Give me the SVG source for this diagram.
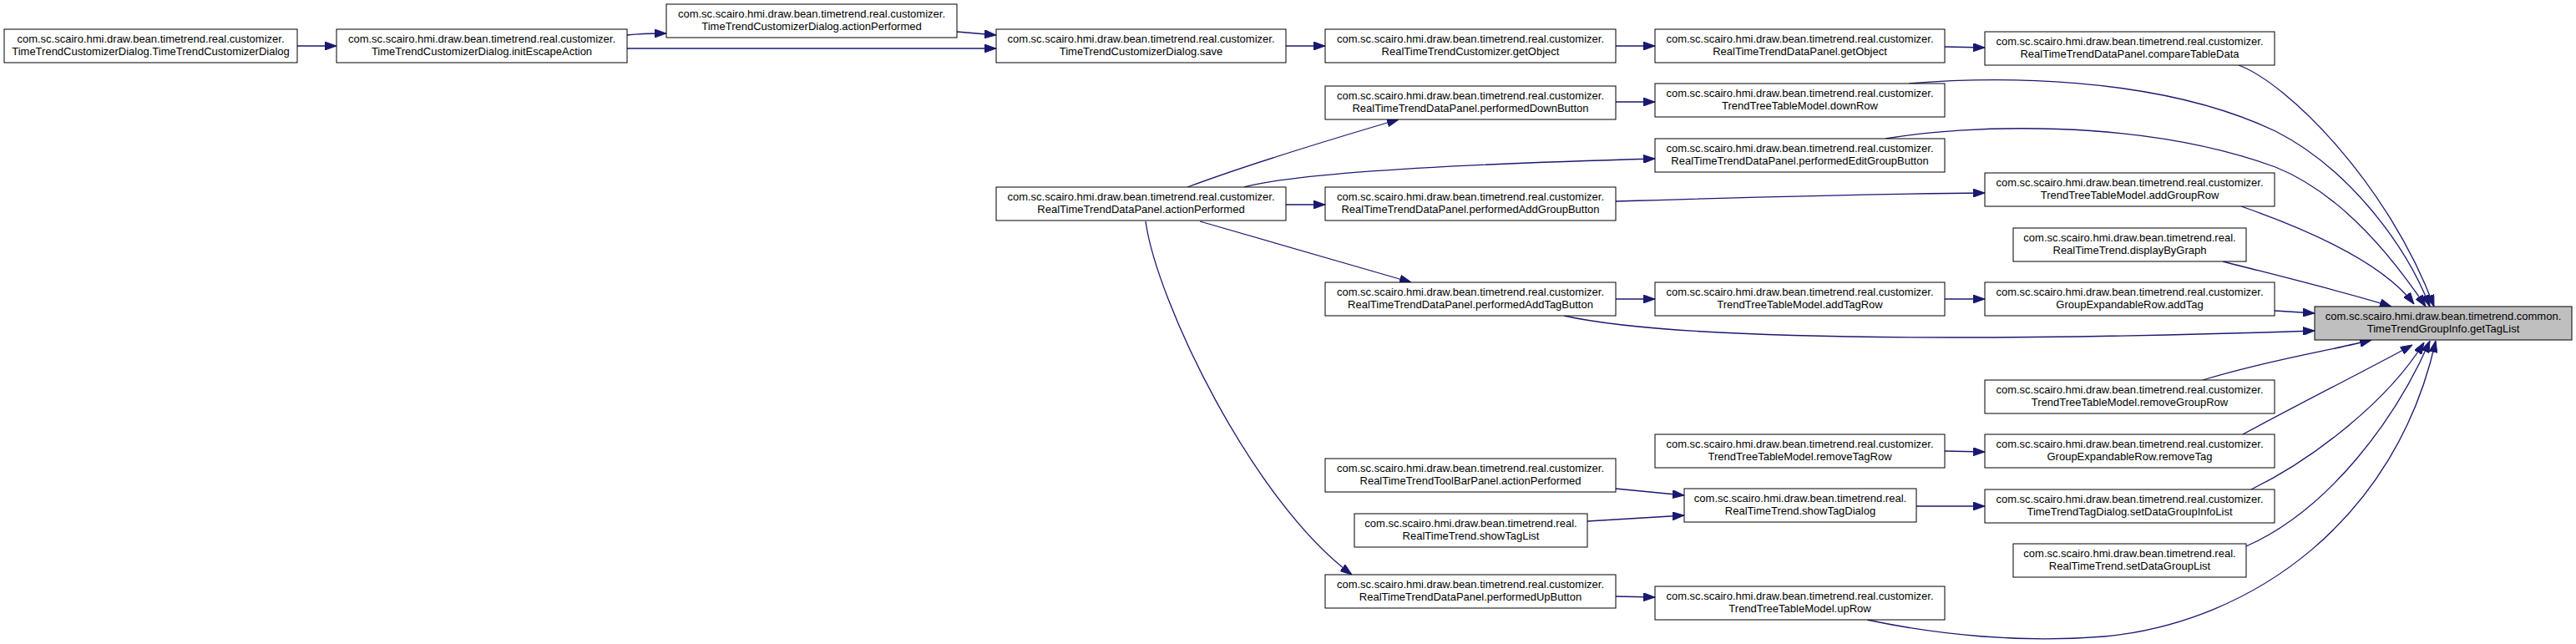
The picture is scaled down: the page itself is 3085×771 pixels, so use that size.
<svg xmlns="http://www.w3.org/2000/svg" width="3085" height="771" viewBox="0 0 3085 771">
<style>
.n rect{fill:#ffffff;stroke:#000000;stroke-width:1}
.root rect{fill:#bfbfbf;stroke:#000000;stroke-width:1}
text{font-family:"Liberation Sans",Arial,sans-serif;font-size:13px;fill:#000000;text-anchor:middle}
.e path{fill:none;stroke:#191970;stroke-width:1.3;marker-end:url(#arr)}
</style>
<defs>
<marker id="arr" markerUnits="userSpaceOnUse" markerWidth="14" markerHeight="10" refX="14" refY="5" orient="auto">
<path d="M0,0 L14,5 L0,10 z" fill="#191970" stroke="#191970" stroke-width="1"/>
</marker>
</defs>
<rect width="3085" height="771" fill="#ffffff"/>
<g class="e" id="edges">
<path d="M356,55 L403,55"/>
<path d="M751,42 C770,40 785,40 798,40"/>
<path d="M751,58 L1193,58"/>
<path d="M1146,38 L1193,42"/>
<path d="M1540,55 L1587,55"/>
<path d="M1935,55 L1982,55"/>
<path d="M2329,56 L2377,57"/>
<path d="M1422,224 C1500,195 1600,165 1675,143"/>
<path d="M1490,224 C1560,205 1800,195 1982,190"/>
<path d="M1540,245 L1587,245"/>
<path d="M1437,265 L1690,338"/>
<path d="M1372,265 C1385,360 1500,600 1619,688"/>
<path d="M1935,122 L1982,122"/>
<path d="M2286,100 C2380,92 2580,88 2725,157 C2810,200 2880,290 2910,367"/>
<path d="M2258,166 C2350,150 2560,140 2725,200 C2800,230 2860,300 2905,367"/>
<path d="M2681,78 C2740,100 2860,220 2915,367"/>
<path d="M1935,241 C2100,236 2250,232 2377,231"/>
<path d="M2684,247 C2750,270 2850,310 2891,364"/>
<path d="M2662,313 C2740,333 2810,350 2864,367"/>
<path d="M1935,358 L1982,358"/>
<path d="M2329,358 L2377,358"/>
<path d="M2724,372 L2772,375"/>
<path d="M1873,378 C1950,395 2100,404 2340,404 C2500,404 2650,400 2772,396"/>
<path d="M2638,455 C2720,430 2790,420 2840,407"/>
<path d="M2686,520 C2760,480 2840,440 2889,413"/>
<path d="M2696,586 C2770,550 2860,480 2903,410"/>
<path d="M2690,654 C2790,610 2870,500 2910,408"/>
<path d="M2236,742 C2320,760 2420,770 2520,762 C2700,745 2870,620 2917,408"/>
<path d="M1935,585 L2017,593"/>
<path d="M1901,624 L2017,617"/>
<path d="M1935,714 L1982,715"/>
<path d="M2329,540 L2377,541"/>
<path d="M2295,606 L2377,606"/>
</g>
<g class="root" id="n0"><rect x="2772" y="367" width="308" height="40"/><text x="2926" y="383">com.sc.scairo.hmi.draw.bean.timetrend.common.</text><text x="2926" y="398">TimeTrendGroupInfo.getTagList</text></g>
<g class="n" id="n1"><rect x="5" y="35" width="351" height="40"/><text x="180.5" y="51">com.sc.scairo.hmi.draw.bean.timetrend.real.customizer.</text><text x="180.5" y="66">TimeTrendCustomizerDialog.TimeTrendCustomizerDialog</text></g>
<g class="n" id="n2"><rect x="403" y="35" width="348" height="40"/><text x="577" y="51">com.sc.scairo.hmi.draw.bean.timetrend.real.customizer.</text><text x="577" y="66">TimeTrendCustomizerDialog.initEscapeAction</text></g>
<g class="n" id="n3"><rect x="798" y="5" width="348" height="40"/><text x="972" y="21">com.sc.scairo.hmi.draw.bean.timetrend.real.customizer.</text><text x="972" y="36">TimeTrendCustomizerDialog.actionPerformed</text></g>
<g class="n" id="n4"><rect x="1193" y="35" width="347" height="40"/><text x="1366.5" y="51">com.sc.scairo.hmi.draw.bean.timetrend.real.customizer.</text><text x="1366.5" y="66">TimeTrendCustomizerDialog.save</text></g>
<g class="n" id="n5"><rect x="1193" y="224" width="347" height="40"/><text x="1366.5" y="240">com.sc.scairo.hmi.draw.bean.timetrend.real.customizer.</text><text x="1366.5" y="255">RealTimeTrendDataPanel.actionPerformed</text></g>
<g class="n" id="n6"><rect x="1587" y="35" width="348" height="40"/><text x="1761" y="51">com.sc.scairo.hmi.draw.bean.timetrend.real.customizer.</text><text x="1761" y="66">RealTimeTrendCustomizer.getObject</text></g>
<g class="n" id="n7"><rect x="1982" y="35" width="347" height="40"/><text x="2155.5" y="51">com.sc.scairo.hmi.draw.bean.timetrend.real.customizer.</text><text x="2155.5" y="66">RealTimeTrendDataPanel.getObject</text></g>
<g class="n" id="n8"><rect x="1587" y="103" width="348" height="40"/><text x="1761" y="119">com.sc.scairo.hmi.draw.bean.timetrend.real.customizer.</text><text x="1761" y="134">RealTimeTrendDataPanel.performedDownButton</text></g>
<g class="n" id="n9"><rect x="1982" y="100" width="347" height="40"/><text x="2155.5" y="116">com.sc.scairo.hmi.draw.bean.timetrend.real.customizer.</text><text x="2155.5" y="131">TrendTreeTableModel.downRow</text></g>
<g class="n" id="n10"><rect x="1982" y="166" width="347" height="40"/><text x="2155.5" y="182">com.sc.scairo.hmi.draw.bean.timetrend.real.customizer.</text><text x="2155.5" y="197">RealTimeTrendDataPanel.performedEditGroupButton</text></g>
<g class="n" id="n11"><rect x="1587" y="224" width="348" height="40"/><text x="1761" y="240">com.sc.scairo.hmi.draw.bean.timetrend.real.customizer.</text><text x="1761" y="255">RealTimeTrendDataPanel.performedAddGroupButton</text></g>
<g class="n" id="n12"><rect x="1587" y="338" width="348" height="40"/><text x="1761" y="354">com.sc.scairo.hmi.draw.bean.timetrend.real.customizer.</text><text x="1761" y="369">RealTimeTrendDataPanel.performedAddTagButton</text></g>
<g class="n" id="n13"><rect x="1982" y="338" width="347" height="40"/><text x="2155.5" y="354">com.sc.scairo.hmi.draw.bean.timetrend.real.customizer.</text><text x="2155.5" y="369">TrendTreeTableModel.addTagRow</text></g>
<g class="n" id="n14"><rect x="2377" y="38" width="347" height="40"/><text x="2550.5" y="54">com.sc.scairo.hmi.draw.bean.timetrend.real.customizer.</text><text x="2550.5" y="69">RealTimeTrendDataPanel.compareTableData</text></g>
<g class="n" id="n15"><rect x="2377" y="338" width="347" height="40"/><text x="2550.5" y="354">com.sc.scairo.hmi.draw.bean.timetrend.real.customizer.</text><text x="2550.5" y="369">GroupExpandableRow.addTag</text></g>
<g class="n" id="n16"><rect x="2377" y="207" width="347" height="40"/><text x="2550.5" y="223">com.sc.scairo.hmi.draw.bean.timetrend.real.customizer.</text><text x="2550.5" y="238">TrendTreeTableModel.addGroupRow</text></g>
<g class="n" id="n17"><rect x="2411" y="273" width="279" height="40"/><text x="2550.5" y="289">com.sc.scairo.hmi.draw.bean.timetrend.real.</text><text x="2550.5" y="304">RealTimeTrend.displayByGraph</text></g>
<g class="n" id="n18"><rect x="1587" y="688" width="348" height="40"/><text x="1761" y="704">com.sc.scairo.hmi.draw.bean.timetrend.real.customizer.</text><text x="1761" y="719">RealTimeTrendDataPanel.performedUpButton</text></g>
<g class="n" id="n19"><rect x="2377" y="455" width="347" height="40"/><text x="2550.5" y="471">com.sc.scairo.hmi.draw.bean.timetrend.real.customizer.</text><text x="2550.5" y="486">TrendTreeTableModel.removeGroupRow</text></g>
<g class="n" id="n20"><rect x="1982" y="520" width="347" height="40"/><text x="2155.5" y="536">com.sc.scairo.hmi.draw.bean.timetrend.real.customizer.</text><text x="2155.5" y="551">TrendTreeTableModel.removeTagRow</text></g>
<g class="n" id="n21"><rect x="1587" y="549" width="348" height="40"/><text x="1761" y="565">com.sc.scairo.hmi.draw.bean.timetrend.real.customizer.</text><text x="1761" y="580">RealTimeTrendToolBarPanel.actionPerformed</text></g>
<g class="n" id="n22"><rect x="2017" y="585" width="278" height="40"/><text x="2156" y="601">com.sc.scairo.hmi.draw.bean.timetrend.real.</text><text x="2156" y="616">RealTimeTrend.showTagDialog</text></g>
<g class="n" id="n23"><rect x="1622" y="615" width="279" height="40"/><text x="1761.5" y="631">com.sc.scairo.hmi.draw.bean.timetrend.real.</text><text x="1761.5" y="646">RealTimeTrend.showTagList</text></g>
<g class="n" id="n24"><rect x="1982" y="702" width="347" height="40"/><text x="2155.5" y="718">com.sc.scairo.hmi.draw.bean.timetrend.real.customizer.</text><text x="2155.5" y="733">TrendTreeTableModel.upRow</text></g>
<g class="n" id="n25"><rect x="2377" y="520" width="347" height="40"/><text x="2550.5" y="536">com.sc.scairo.hmi.draw.bean.timetrend.real.customizer.</text><text x="2550.5" y="551">GroupExpandableRow.removeTag</text></g>
<g class="n" id="n26"><rect x="2377" y="586" width="347" height="40"/><text x="2550.5" y="602">com.sc.scairo.hmi.draw.bean.timetrend.real.customizer.</text><text x="2550.5" y="617">TimeTrendTagDialog.setDataGroupInfoList</text></g>
<g class="n" id="n27"><rect x="2411" y="651" width="279" height="40"/><text x="2550.5" y="667">com.sc.scairo.hmi.draw.bean.timetrend.real.</text><text x="2550.5" y="682">RealTimeTrend.setDataGroupList</text></g>
</svg>
